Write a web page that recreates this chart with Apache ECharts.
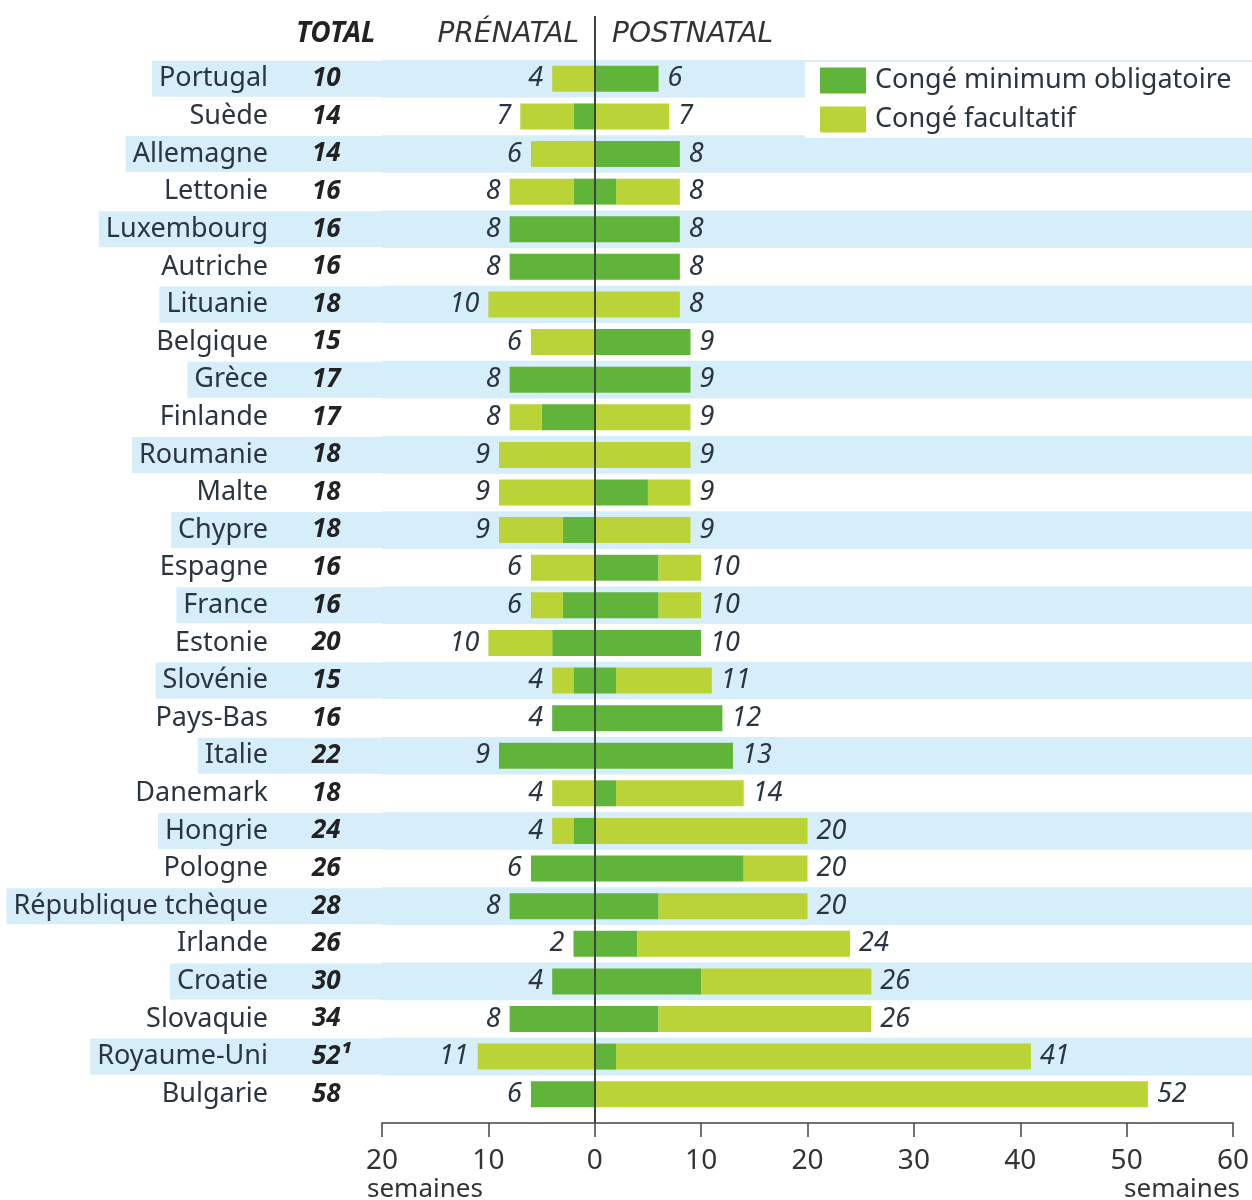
<!DOCTYPE html>
<html>
<head>
<meta charset="utf-8">
<script src="https://cdn.jsdelivr.net/npm/echarts@6/dist/echarts.min.js"></script>
<style>
html,body{margin:0;padding:0;background:#fff;}
#chart{width:1252px;height:1200px;}
</style>
</head>
<body>
<div id="chart"></div>
<script>
const countries = ['Portugal','Suède','Allemagne','Lettonie','Luxembourg','Autriche','Lituanie','Belgique','Grèce','Finlande','Roumanie','Malte','Chypre','Espagne','France','Estonie','Slovénie','Pays-Bas','Italie','Danemark','Hongrie','Pologne','République tchèque','Irlande','Croatie','Slovaquie','Royaume-Uni','Bulgarie'];
const totals = [10,14,14,16,16,16,18,15,17,17,18,18,18,16,16,20,15,16,22,18,24,26,28,26,30,34,52,58];
const totalNotes = {'Royaume-Uni': '¹'};
const preMandatory  = [0,2,0,2,8,8,0,0,8,5,0,0,3,0,3,4,2,4,9,0,2,6,8,2,4,8,0,6];
const preOptional   = [4,5,6,6,0,0,10,6,0,3,9,9,6,6,3,6,2,0,0,4,2,0,0,0,0,0,11,0];
const postMandatory = [6,0,8,2,8,8,0,9,9,0,0,5,0,6,6,10,2,12,13,2,0,14,6,4,10,6,2,0];
const postOptional  = [0,7,0,6,0,0,8,0,0,9,9,4,9,4,4,0,9,0,0,12,20,6,14,20,16,20,39,52];
const xTicks = {min: -20, max: 60, step: 10};

const FONT = '"Noto Sans", sans-serif';
const HFONT = '"DejaVu Sans", sans-serif';
const DARK = '#5fb439';
const LIGHT = '#bad337';
const BAND = '#d5eef9';
const TXT = '#2b3540';
const NAME1 = 'Congé minimum obligatoire';
const NAME2 = 'Congé facultatif';

const chart = echarts.init(document.getElementById('chart'));

const valueLabel = {
  show: true,
  fontFamily: FONT,
  fontStyle: 'italic',
  fontSize: 27,
  color: TXT,
  distance: 9
};

const gridBox = {top: 60, height: 1053, containLabel: false, outerBoundsMode: 'none'};

chart.setOption({
  backgroundColor: '#fff',
  animation: false,
  textStyle: {fontFamily: FONT},
  grid: [
    Object.assign({left: 382, right: 19}, gridBox),
    Object.assign({left: 382, right: 0}, gridBox)
  ],
  legend: {
    left: 805, top: 62, orient: 'vertical',
    backgroundColor: '#fff',
    padding: [5, 30, 5, 15],
    itemWidth: 46, itemHeight: 26, itemGap: 12,
    icon: 'rect',
    data: [NAME1, NAME2],
    textStyle: {fontFamily: FONT, fontSize: 27, color: TXT, padding: [0, 0, 0, 4]}
  },
  graphic: [
    {type: 'text', left: 296, top: 20, style: {text: 'TOTAL', fontFamily: FONT, fontSize: 28, fontStyle: 'italic', fontWeight: 'bold', fill: '#222'}},
    {type: 'text', right: 1252 - 579, top: 21, style: {text: 'PRÉNATAL', fontFamily: HFONT, fontSize: 28, fontStyle: 'italic', fill: '#333'}},
    {type: 'text', left: 612, top: 21, style: {text: 'POSTNATAL', fontFamily: HFONT, fontSize: 28, fontStyle: 'italic', fill: '#333'}},
    {type: 'text', left: 367, top: 1177, style: {text: 'semaines', fontFamily: FONT, fontSize: 26, fill: '#333'}},
    {type: 'text', right: 12, top: 1177, style: {text: 'semaines', fontFamily: FONT, fontSize: 26, fill: '#333'}}
  ],
  xAxis: [
    {
      type: 'value',
      min: xTicks.min, max: xTicks.max, interval: xTicks.step,
      offset: 10,
      axisLine: {show: true, lineStyle: {color: '#444', width: 1.5}},
      axisTick: {show: true, length: 14, lineStyle: {color: '#444', width: 1.5}},
      splitLine: {show: false},
      axisLabel: {
        margin: 24,
        showMinLabel: true,
        showMaxLabel: true,
        hideOverlap: false,
        fontFamily: FONT,
        fontSize: 28,
        color: '#333',
        formatter: v => String(Math.abs(v))
      }
    },
    {gridIndex: 1, type: 'value', show: false, min: 0, max: 1}
  ],
  yAxis: [
    {
      type: 'category',
      inverse: true,
      data: countries,
      axisLine: {show: false},
      axisTick: {show: false},
      splitArea: {show: false},
      axisLabel: {
        interval: 0,
        margin: 0,
        formatter: function (value, index) {
          const t = totals[index] + (totalNotes[value] || '');
          return index % 2 === 0 ? '{nb|' + value + '}{tb|' + t + '}' : '{n|' + value + '}{t|' + t + '}';
        },
        rich: {
          n: {fontFamily: FONT, fontSize: 27, color: TXT, align: 'left', height: 36, padding: [0, 44, 0, 7]},
          nb: {fontFamily: FONT, fontSize: 27, color: TXT, align: 'left', height: 36, padding: [0, 44, 0, 7], backgroundColor: BAND},
          t: {fontFamily: FONT, fontSize: 26, fontStyle: 'italic', fontWeight: 'bold', color: '#222', align: 'left', width: 70, height: 36},
          tb: {fontFamily: FONT, fontSize: 26, fontStyle: 'italic', fontWeight: 'bold', color: '#222', align: 'left', width: 70, height: 36, backgroundColor: BAND}
        }
      }
    },
    {
      gridIndex: 1,
      type: 'category',
      inverse: true,
      data: countries,
      axisLine: {show: false},
      axisTick: {show: false},
      axisLabel: {show: false},
      splitArea: {show: true, areaStyle: {color: [BAND, 'rgba(255,255,255,0)']}}
    }
  ],
  series: [
    {
      name: NAME1, type: 'bar', stack: 'pre', barWidth: 26, barGap: '-100%',
      itemStyle: {color: DARK},
      data: preMandatory.map(v => -v)
    },
    {
      name: NAME2, type: 'bar', stack: 'pre', barWidth: 26, barGap: '-100%',
      itemStyle: {color: LIGHT},
      label: Object.assign({}, valueLabel, {
        position: 'left',
        formatter: p => String(preMandatory[p.dataIndex] + preOptional[p.dataIndex])
      }),
      data: preOptional.map(v => -v)
    },
    {
      name: NAME1, type: 'bar', stack: 'post', barWidth: 26, barGap: '-100%',
      itemStyle: {color: DARK},
      data: postMandatory,
      markLine: {
        silent: true, symbol: 'none', animation: false,
        label: {show: false},
        lineStyle: {color: '#3d433d', width: 2, type: 'solid'},
        data: [[{coord: [0, countries[0]], y: 16}, {coord: [0, countries[0]], y: 1123}]]
      }
    },
    {
      name: NAME2, type: 'bar', stack: 'post', barWidth: 26, barGap: '-100%',
      itemStyle: {color: LIGHT},
      label: Object.assign({}, valueLabel, {
        position: 'right',
        formatter: p => String(postMandatory[p.dataIndex] + postOptional[p.dataIndex])
      }),
      data: postOptional
    }
  ]
});
</script>
</body>
</html>
